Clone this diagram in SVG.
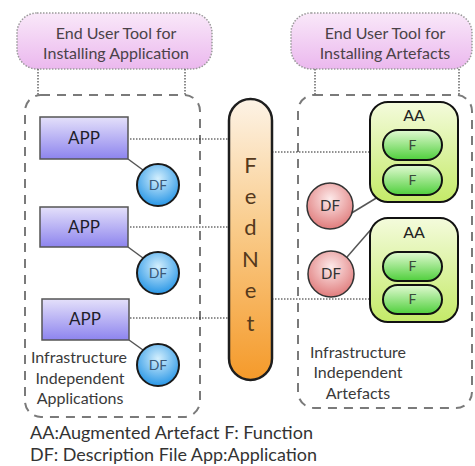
<svg xmlns="http://www.w3.org/2000/svg" width="475" height="466" viewBox="0 0 475 466">
  <defs>
    <linearGradient id="gTool" x1="0" y1="0" x2="0" y2="1">
      <stop offset="0" stop-color="#f9e8f9"/>
      <stop offset="1" stop-color="#ebb8ee"/>
    </linearGradient>
    <linearGradient id="gApp" x1="0" y1="0" x2="0" y2="1">
      <stop offset="0" stop-color="#e4e0fa"/>
      <stop offset="1" stop-color="#8d84ee"/>
    </linearGradient>
    <linearGradient id="gNet" x1="0" y1="0" x2="0" y2="1">
      <stop offset="0" stop-color="#fdf3e6"/>
      <stop offset="0.45" stop-color="#f9cc8c"/>
      <stop offset="1" stop-color="#f59a2a"/>
    </linearGradient>
    <linearGradient id="gAA" x1="0" y1="0" x2="0" y2="1">
      <stop offset="0" stop-color="#f4fbdc"/>
      <stop offset="1" stop-color="#c4ea68"/>
    </linearGradient>
    <linearGradient id="gF" x1="0" y1="0" x2="0" y2="1">
      <stop offset="0" stop-color="#e2fad2"/>
      <stop offset="1" stop-color="#4fcf3c"/>
    </linearGradient>
    <radialGradient id="gDFb" cx="0.5" cy="0.35" r="0.65">
      <stop offset="0" stop-color="#d4effd"/>
      <stop offset="1" stop-color="#2896e6"/>
    </radialGradient>
    <radialGradient id="gDFr" cx="0.5" cy="0.35" r="0.65">
      <stop offset="0" stop-color="#fdeaea"/>
      <stop offset="1" stop-color="#e07c7c"/>
    </radialGradient>
  </defs>
  <style>
    text { font-family: Lato, "Open Sans", "Liberation Sans", sans-serif; text-anchor: middle; }
    .tool { fill: url(#gTool); stroke: #9a9a9a; stroke-width: 1.5; stroke-dasharray: 1.5 1.5; }
    .tooltxt { font-size: 16px; fill: #4a4248; }
    .drop { fill: none; stroke: #666; stroke-width: 1.5; stroke-dasharray: 1.5 1.5; }
    .area { fill: none; stroke: #7a7a7a; stroke-width: 2; stroke-dasharray: 9 7; }
    .app { fill: url(#gApp); stroke: #555; stroke-width: 1.5; }
    .apptxt { font-size: 17px; fill: #1e1e2a; }
    .dfb { fill: url(#gDFb); stroke: #1a1a1a; stroke-width: 2; }
    .dfbtxt { font-size: 14px; fill: #3a5878; }
    .dfr { fill: url(#gDFr); stroke: #333; stroke-width: 1.5; }
    .dfrtxt { font-size: 15px; fill: #333; }
    .net { fill: url(#gNet); stroke: #1e1e1e; stroke-width: 2.5; }
    .nettxt { font-size: 22px; fill: #55391c; }
    .aa { fill: url(#gAA); stroke: #111; stroke-width: 2; }
    .aatxt { font-size: 16px; fill: #222; }
    .f { fill: url(#gF); stroke: #111; stroke-width: 2; }
    .ftxt { font-size: 14px; fill: #3a4a3a; }
    .dot { fill: none; stroke: #222; stroke-width: 1; stroke-dasharray: 1.5 1.5; }
    .link { fill: none; stroke: #555; stroke-width: 1.5; }
    .label { font-size: 16px; fill: #3a3a3a; }
    .legend { font-size: 17px; fill: #333; text-anchor: start; }
  </style>

  <rect width="475" height="466" fill="#ffffff"/>

  <!-- tool boxes -->
  <g id="tool-app">
    <rect class="tool" x="17" y="13" width="195" height="56" rx="20"/>
    <text class="tooltxt" x="116" y="39">End User Tool for</text>
    <text class="tooltxt" x="116" y="59">Installing Application</text>
  </g>
  <g id="tool-artefacts">
    <rect class="tool" x="291" y="13" width="181" height="56" rx="20"/>
    <text class="tooltxt" x="385" y="39">End User Tool for</text>
    <text class="tooltxt" x="385" y="59">Installing Artefacts</text>
  </g>

  <!-- dashed areas -->
  <g id="area-applications">
    <rect class="area" x="25" y="95" width="175" height="322" rx="16"/>
    <text class="label" x="79" y="363">Infrastructure</text>
    <text class="label" x="80" y="384">Independent</text>
    <text class="label" x="80" y="404">Applications</text>
  </g>
  <g id="area-artefacts">
    <rect class="area" x="298" y="95" width="174" height="313" rx="16"/>
    <text class="label" x="358" y="358">Infrastructure</text>
    <text class="label" x="358" y="378">Independent</text>
    <text class="label" x="358" y="399">Artefacts</text>
  </g>

  <!-- connectors -->
  <g id="connectors">
    <line class="drop" x1="38" y1="69" x2="38" y2="95"/>
    <line class="drop" x1="185" y1="69" x2="185" y2="95"/>
    <line class="drop" x1="315" y1="69" x2="315" y2="95"/>
    <line class="drop" x1="459" y1="69" x2="459" y2="95"/>
    <line class="dot" x1="130" y1="139" x2="229" y2="139"/>
    <line class="dot" x1="130" y1="227" x2="229" y2="227"/>
    <line class="dot" x1="130" y1="318" x2="229" y2="318"/>
    <line class="dot" x1="272" y1="152" x2="370" y2="152"/>
    <line class="dot" x1="272" y1="299" x2="370" y2="299"/>
    <line class="link" x1="128" y1="159" x2="143" y2="170"/>
    <line class="link" x1="128" y1="247" x2="143" y2="258"/>
    <line class="link" x1="129" y1="340" x2="143" y2="350"/>
    <line class="link" x1="350" y1="214" x2="378" y2="197"/>
    <line class="link" x1="347" y1="257" x2="374" y2="226"/>
  </g>

  <!-- applications -->
  <g id="app1">
    <rect class="app" x="40" y="117" width="88" height="42"/>
    <text class="apptxt" x="84" y="144">APP</text>
  </g>
  <g id="df-app1">
    <circle class="dfb" cx="158" cy="185" r="21"/>
    <text class="dfbtxt" x="158" y="190">DF</text>
  </g>
  <g id="app2">
    <rect class="app" x="40" y="207" width="88" height="40"/>
    <text class="apptxt" x="84" y="233">APP</text>
  </g>
  <g id="df-app2">
    <circle class="dfb" cx="158" cy="273" r="21"/>
    <text class="dfbtxt" x="158" y="278">DF</text>
  </g>
  <g id="app3">
    <rect class="app" x="42" y="299" width="87" height="41"/>
    <text class="apptxt" x="85" y="325">APP</text>
  </g>
  <g id="df-app3">
    <circle class="dfb" cx="158" cy="365" r="21"/>
    <text class="dfbtxt" x="158" y="370">DF</text>
  </g>

  <!-- federation network -->
  <g id="fednet">
    <rect class="net" x="229" y="99" width="43" height="281" rx="21.5"/>
    <text class="nettxt" x="250.5" y="173">F</text>
    <text class="nettxt" x="250.5" y="204">e</text>
    <text class="nettxt" x="250.5" y="235">d</text>
    <text class="nettxt" x="250.5" y="267">N</text>
    <text class="nettxt" x="250.5" y="298">e</text>
    <text class="nettxt" x="250.5" y="331">t</text>
  </g>

  <!-- augmented artefacts -->
  <g id="aa1">
    <rect class="aa" x="370" y="102" width="88" height="100" rx="18"/>
    <text class="aatxt" x="414" y="121">AA</text>
    <rect class="f" x="383" y="130" width="59" height="30" rx="15"/>
    <text class="ftxt" x="412.5" y="150">F</text>
    <rect class="f" x="383" y="165" width="59" height="30" rx="15"/>
    <text class="ftxt" x="412.5" y="185">F</text>
  </g>
  <g id="df-aa1">
    <circle class="dfr" cx="330" cy="206" r="23"/>
    <text class="dfrtxt" x="330" y="211">DF</text>
  </g>
  <g id="aa2">
    <rect class="aa" x="370" y="218" width="88" height="104" rx="18"/>
    <text class="aatxt" x="414" y="238">AA</text>
    <rect class="f" x="383" y="252" width="59" height="29" rx="14.5"/>
    <text class="ftxt" x="412.5" y="271">F</text>
    <rect class="f" x="383" y="285" width="59" height="29" rx="14.5"/>
    <text class="ftxt" x="412.5" y="304">F</text>
  </g>
  <g id="df-aa2">
    <circle class="dfr" cx="331" cy="274" r="23"/>
    <text class="dfrtxt" x="331" y="279">DF</text>
  </g>

  <!-- legend -->
  <g id="legend">
    <text class="legend" x="30" y="439" textLength="283" lengthAdjust="spacingAndGlyphs">AA:Augmented Artefact F: Function</text>
    <text class="legend" x="30" y="461" textLength="287" lengthAdjust="spacingAndGlyphs">DF: Description File App:Application</text>
  </g>
</svg>
